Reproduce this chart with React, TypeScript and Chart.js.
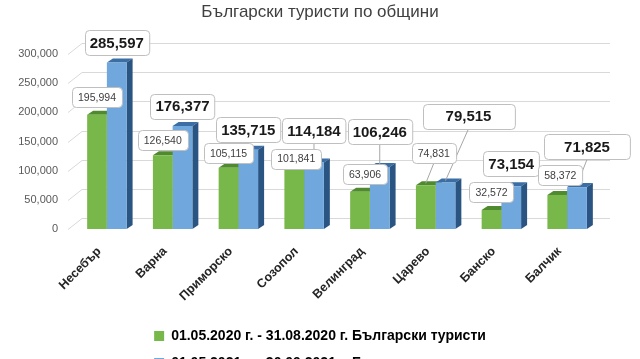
import React, { useEffect, useRef } from 'react';
import { Chart, registerables } from 'chart.js';

Chart.register(...registerables);

const FONT = "'Liberation Sans', Arial, sans-serif";

const titleText = 'Български туристи по общини';
const categories = ['Несебър', 'Варна', 'Приморско', 'Созопол', 'Велинград', 'Царево', 'Банско', 'Балчик'];
const tourists2020 = [195994, 126540, 105115, 101841, 63906, 74831, 32572, 58372];
const tourists2021 = [285597, 176377, 135715, 114184, 106246, 79515, 73154, 71825];
const seriesNames = [
  '01.05.2020 г. - 31.08.2020 г. Български туристи',
  '01.05.2021 г. - 30.09.2021 г. Български туристи',
];
const yTicks = [0, 50000, 100000, 150000, 200000, 250000, 300000];

// label nudges (pixels) relative to default callout placement
const greenNudgeX = [0, 0, 0, 2, 5, 8, 0, 3];
const greenNudgeY = [-3, 0, 0, 4, -3, -17, -3, -5];
const blueNudgeX = [0, 0, 0, 0, 0, 23, 0, 10];
const blueNudgeY = [-3, -3, 5, 0, -14, -9, 0, 0];
const blueBoxExtra = [0, 0, 0, 0, 0, 36, 0, 30];

const frontColors = ['#78b74a', '#70a7dc'];
const topColors = ['#4f8a2f', '#3a6ea5'];
const sideColors = ['#4a7d2c', '#2a5482'];

const fmt = (v: number) => Number(v).toLocaleString('en-US');

const wallPlugin = {
  id: 'wall3d',
  beforeDatasetsDraw(chart: any) {
    const { ctx, chartArea, scales } = chart;
    const y = scales.y;
    ctx.save();
    ctx.strokeStyle = '#d9d9d9';
    ctx.lineWidth = 1;
    yTicks.forEach((v) => {
      const py = Math.round(y.getPixelForValue(v)) + 0.5;
      ctx.beginPath();
      ctx.moveTo(chartArea.left - 6, py);
      ctx.lineTo(chartArea.left + 8, py - 11);
      ctx.lineTo(chartArea.right + 10, py - 11);
      ctx.stroke();
    });
    const dx = 6;
    const dy = 4;
    [0, 1].forEach((di) => {
      const meta = chart.getDatasetMeta(di);
      meta.data.forEach((el: any) => {
        const { x, y: top, base, width } = el.getProps(['x', 'y', 'base', 'width'], true);
        const l = x - width / 2;
        const r = x + width / 2;
        ctx.fillStyle = topColors[di];
        ctx.beginPath();
        ctx.moveTo(l, top);
        ctx.lineTo(l + dx, top - dy);
        ctx.lineTo(r + dx, top - dy);
        ctx.lineTo(r, top);
        ctx.closePath();
        ctx.fill();
        ctx.fillStyle = sideColors[di];
        ctx.beginPath();
        ctx.moveTo(r, top);
        ctx.lineTo(r + dx, top - dy);
        ctx.lineTo(r + dx, base - dy);
        ctx.lineTo(r, base);
        ctx.closePath();
        ctx.fill();
      });
    });
    ctx.restore();
  },
};

function roundRect(ctx: CanvasRenderingContext2D, x: number, y: number, w: number, h: number, r: number) {
  ctx.beginPath();
  ctx.moveTo(x + r, y);
  ctx.lineTo(x + w - r, y);
  ctx.quadraticCurveTo(x + w, y, x + w, y + r);
  ctx.lineTo(x + w, y + h - r);
  ctx.quadraticCurveTo(x + w, y + h, x + w - r, y + h);
  ctx.lineTo(x + r, y + h);
  ctx.quadraticCurveTo(x, y + h, x, y + h - r);
  ctx.lineTo(x, y + r);
  ctx.quadraticCurveTo(x, y, x + r, y);
  ctx.closePath();
}

const labelPlugin = {
  id: 'calloutLabels',
  afterDatasetsDraw(chart: any) {
    const ctx: CanvasRenderingContext2D = chart.ctx;
    const g = chart.getDatasetMeta(0).data;
    const b = chart.getDatasetMeta(1).data;
    ctx.save();
    const items: any[] = [];
    categories.forEach((_, i) => {
      const gp = g[i].getProps(['x', 'y'], true);
      const bp = b[i].getProps(['x', 'y'], true);
      const gcx = gp.x + greenNudgeX[i];
      const gcy = gp.y - 15 + greenNudgeY[i];
      const bcx = bp.x + blueNudgeX[i];
      const bcy = Math.min(bp.y - 17, gcy - 28) + blueNudgeY[i];
      items.push({ text: fmt(tourists2021[i]), cx: bcx, cy: bcy, bx: bp.x, by: bp.y, size: 15, bold: true, h: 25, pad: 10 + blueBoxExtra[i] });
      items.push({ text: fmt(tourists2020[i]), cx: gcx, cy: gcy, bx: gp.x, by: gp.y, size: 10.5, bold: false, h: 20, pad: 12 });
    });
    ctx.strokeStyle = '#a6a6a6';
    ctx.lineWidth = 1;
    items.forEach((it) => {
      if (it.by - (it.cy + it.h / 2) > 12) {
        ctx.beginPath();
        ctx.moveTo(it.cx, it.cy + it.h / 2);
        ctx.lineTo(it.bx, it.by - 2);
        ctx.stroke();
      }
    });
    items.forEach((it) => {
      ctx.font = `${it.bold ? 'bold ' : ''}${it.size}px ${FONT}`;
      const tw = ctx.measureText(it.text).width;
      const w = tw + it.pad;
      const x = Math.round(it.cx - w / 2) + 0.5;
      const y = Math.round(it.cy - it.h / 2) + 0.5;
      roundRect(ctx, x, y, w, it.h, 4);
      ctx.fillStyle = '#ffffff';
      ctx.fill();
      ctx.strokeStyle = '#bfbfbf';
      ctx.stroke();
      ctx.fillStyle = it.bold ? '#1a1a1a' : '#404040';
      ctx.textAlign = 'center';
      ctx.textBaseline = 'middle';
      ctx.fillText(it.text, it.cx, it.cy + 1);
    });
    ctx.restore();
  },
};

// rotated category labels, anchored just left of each tick
const xLabelPlugin = {
  id: 'xLabels3d',
  afterDraw(chart: any) {
    const { ctx, chartArea, scales } = chart;
    const x = scales.x;
    ctx.save();
    ctx.font = `bold 12.5px ${FONT}`;
    ctx.fillStyle = '#262626';
    ctx.textAlign = 'right';
    ctx.textBaseline = 'top';
    categories.forEach((c, i) => {
      const ax = x.getPixelForTick(i) - 12;
      const ay = chartArea.bottom + 16;
      ctx.save();
      ctx.translate(ax, ay);
      ctx.rotate(-Math.PI / 4);
      ctx.fillText(c, 0, 0);
      ctx.restore();
    });
    ctx.restore();
  },
};

export default function App() {
  const ref = useRef<HTMLCanvasElement>(null);
  useEffect(() => {
    document.body.style.margin = '0';
    document.body.style.overflow = 'hidden';
    document.documentElement.style.overflow = 'hidden';
    Chart.defaults.font.family = FONT;
    const chart = new Chart(ref.current as HTMLCanvasElement, {
      type: 'bar',
      data: {
        labels: categories,
        datasets: [
          { label: seriesNames[0], data: tourists2020, backgroundColor: frontColors[0], borderWidth: 0 },
          { label: seriesNames[1], data: tourists2021, backgroundColor: frontColors[1], borderWidth: 0 },
        ],
      },
      options: {
        responsive: false,
        animation: false,
        devicePixelRatio: 1,
        layout: { padding: 0 },
        datasets: { bar: { categoryPercentage: 0.6, barPercentage: 1 } },
        plugins: {
          title: {
            display: true,
            text: titleText,
            color: '#404040',
            font: { size: 17, weight: 'normal', family: FONT },
            padding: { top: 2, bottom: 31.6 },
          },
          legend: {
            position: 'bottom',
            labels: {
              boxWidth: 10,
              boxHeight: 10,
              padding: 13,
              color: '#000000',
              font: { size: 14, weight: 'bold', family: FONT },
            },
          },
          tooltip: { enabled: false },
        },
        scales: {
          x: {
            grid: { display: false, drawTicks: false },
            border: { display: false },
            ticks: { display: false },
            afterFit: (s: any) => {
              s.height = 87;
            },
          },
          y: {
            min: 0,
            max: 300000,
            grid: { display: false, drawTicks: false },
            border: { display: false },
            ticks: {
              stepSize: 50000,
              color: '#595959',
              font: { size: 11, family: FONT },
              padding: 16,
              callback: (v: any) => fmt(Number(v)),
            },
            afterFit: (s: any) => {
              s.width = 74;
            },
          },
          y2: {
            position: 'right',
            grid: { display: false, drawTicks: false },
            border: { display: false },
            ticks: { display: false },
            afterFit: (s: any) => {
              s.width = 40;
            },
          },
        },
      } as any,
      plugins: [wallPlugin, labelPlugin, xLabelPlugin],
    });
    return () => chart.destroy();
  }, []);
  return (
    <div style={{ position: 'absolute', left: 0, top: 0, width: 640, height: 380, overflow: 'hidden', background: '#ffffff' }}>
      <canvas ref={ref} width={640} height={380} style={{ display: 'block' }} />
    </div>
  );
}
